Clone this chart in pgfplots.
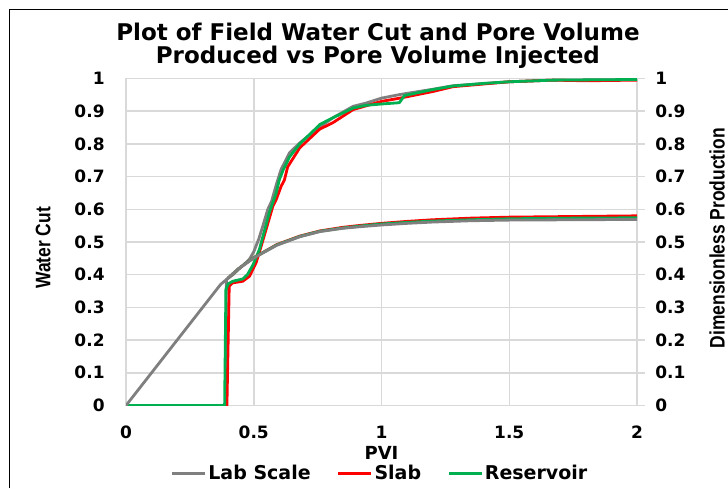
\documentclass[border=0pt]{standalone}
\usepackage{fontspec}
\setmainfont{DejaVu Sans}
\newfontfamily\lib{Liberation Sans}
\usepackage{graphicx}
\usepackage{pgfplots}
\pgfplotsset{compat=1.18}
\definecolor{labgray}{HTML}{7F7F7F}
\definecolor{slabred}{HTML}{FF0000}
\definecolor{resgreen}{HTML}{00B050}
\definecolor{gridgray}{HTML}{D9D9D9}

\begin{document}
\begin{tikzpicture}
\useasboundingbox (0,0) rectangle (364pt,244pt);
\draw[black, line width=0.8pt] (4.75pt,0pt) -- (4.75pt,239.25pt) -- (364pt,239.25pt);
\begin{axis}[
  at={(63pt,41.25pt)}, anchor=south west,
  scale only axis, width=255.5pt, height=163.5pt,
  xmin=0, xmax=2, ymin=0, ymax=1,
  xtick={0,0.5,1,1.5,2},
  ytick={0,0.1,0.2,0.3,0.4,0.5,0.6,0.7,0.8,0.9,1},
  axis line style={draw=none},
  grid=major, major grid style={gridgray, line width=0.75pt},
  major tick length=0pt, tick style={draw=none},
  /pgf/number format/assume math mode=true,
  tick label style={font=\fontsize{8.5}{10}\selectfont\bfseries},
  xticklabel style={inner sep=0pt, yshift=-10pt},
  yticklabel style={inner sep=0pt, xshift=-10.5pt},
  xlabel={PVI},
  xlabel style={at={(axis description cs:0.5,-0.125)}, anchor=north, inner sep=0pt, font=\fontsize{9}{10}\selectfont\bfseries},
  ylabel={\scalebox{0.83}[1]{Water Cut}},
  ylabel style={at={(axis description cs:-0.162,0.482)}, anchor=center, inner sep=0pt, font=\lib\fontsize{10.5}{12}\selectfont\bfseries},
  title={Plot of Field Water Cut and Pore Volume\\Produced vs Pore Volume Injected},
  title style={at={(axis description cs:0.493,0.992)}, anchor=south, align=center, inner sep=0pt, font=\fontsize{11.5}{11.5}\selectfont\bfseries},
  legend style={at={(axis description cs:0.497,-0.208)}, anchor=center, draw=none, fill=none,
    legend columns=3, font=\fontsize{9.5}{11}\selectfont\bfseries,
    /tikz/every even column/.append style={column sep=12pt},
    nodes={inner sep=1pt}},
  legend image code/.code={\draw[#1] (0pt,0pt) -- (16.5pt,0pt);},
  every axis plot/.append style={line width=1.4pt, line join=round},
]
% Water cut
\addplot[labgray] coordinates {
(0,0) (0.39,0) (0.393,0.385) (0.418,0.40) (0.457,0.428) (0.483,0.447) (0.50,0.47)
(0.52,0.51) (0.536,0.55) (0.555,0.60) (0.57,0.625) (0.59,0.68) (0.607,0.722)
(0.64,0.773) (0.68,0.803) (0.745,0.844) (0.81,0.88) (0.889,0.915) (0.94,0.925)
(1.0,0.94) (1.072,0.951) (1.2,0.967) (1.28,0.978) (1.5,0.99) (1.67,0.995) (2,0.997)};
\addlegendentry{Lab Scale}
\addplot[slabred] coordinates {
(0,0) (0.395,0) (0.404,0.365) (0.417,0.375) (0.457,0.38) (0.483,0.395) (0.509,0.436)
(0.529,0.487) (0.575,0.61) (0.588,0.63) (0.607,0.67) (0.62,0.69) (0.633,0.73)
(0.68,0.788) (0.758,0.845) (0.81,0.865) (0.889,0.905) (1.0,0.93) (1.072,0.94)
(1.2,0.96) (1.28,0.975) (1.5,0.99) (1.67,0.995) (1.8,0.993) (2,0.995)};
\addlegendentry{Slab}
\addplot[resgreen] coordinates {
(0,0) (0.386,0) (0.391,0.355) (0.40,0.372) (0.418,0.38) (0.457,0.387) (0.475,0.40)
(0.497,0.43) (0.522,0.477) (0.561,0.59) (0.588,0.65) (0.60,0.69) (0.615,0.72)
(0.64,0.76) (0.68,0.80) (0.76,0.86) (0.81,0.88) (0.89,0.91) (0.94,0.918)
(1.0,0.922) (1.07,0.926) (1.09,0.948) (1.2,0.966) (1.28,0.977) (1.4,0.985)
(1.5,0.99) (1.67,0.995) (2,0.997)};
\addlegendentry{Reservoir}
% Dimensionless production
\addplot[slabred, forget plot] coordinates {
(0.40,0.39) (0.44,0.418) (0.50,0.452) (0.59,0.492) (0.68,0.518)
(0.76,0.534) (0.85,0.545) (0.92,0.551) (1.0,0.557) (1.1,0.563) (1.2,0.568)
(1.35,0.573) (1.5,0.576) (1.75,0.578) (2,0.580)};
\addplot[resgreen, forget plot] coordinates {
(0.40,0.39) (0.44,0.418) (0.50,0.452) (0.59,0.491) (0.68,0.517) (0.76,0.533)
(0.85,0.543) (0.92,0.549) (1.0,0.555) (1.1,0.560) (1.2,0.564) (1.35,0.568)
(1.5,0.571) (1.75,0.573) (2,0.574)};
\addplot[labgray, forget plot] coordinates {
(0,0) (0.37,0.37) (0.40,0.39) (0.44,0.418) (0.50,0.451) (0.59,0.49) (0.68,0.516)
(0.76,0.532) (0.85,0.542) (0.92,0.547) (1.0,0.552) (1.1,0.557) (1.2,0.561)
(1.35,0.565) (1.5,0.567) (1.75,0.568) (2,0.569)};
\end{axis}
\begin{axis}[
  at={(63pt,41.25pt)}, anchor=south west,
  scale only axis, width=255.5pt, height=163.5pt,
  xmin=0, xmax=2, ymin=0, ymax=1,
  hide x axis, axis y line*=right,
  axis line style={draw=none},
  ytick={0,0.1,0.2,0.3,0.4,0.5,0.6,0.7,0.8,0.9,1},
  tick align=outside, major tick length=4pt,
  tick style={gridgray, line width=0.75pt},
  /pgf/number format/assume math mode=true,
  tick label style={font=\fontsize{8.5}{10}\selectfont\bfseries},
  yticklabel style={inner sep=0pt, xshift=5pt},
  ylabel={\scalebox{0.83}[1]{Dimensionless Production}},
  ylabel style={at={(axis description cs:1.157,0.512)}, anchor=center, inner sep=0pt, font=\lib\fontsize{10.5}{12}\selectfont\bfseries},
]
\end{axis}
\end{tikzpicture}
\end{document}
